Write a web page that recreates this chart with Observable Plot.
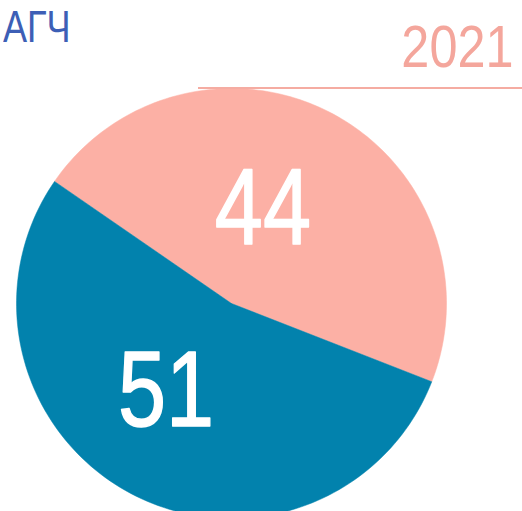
<!DOCTYPE html>
<html>
<head>
<meta charset="utf-8">
<script src="https://cdn.jsdelivr.net/npm/d3@7"></script>
<script src="https://cdn.jsdelivr.net/npm/@observablehq/plot@0.6"></script>
<style>
  html, body { margin: 0; padding: 0; background: #ffffff; }
  #wrap { position: relative; width: 522px; height: 511px; overflow: hidden; background: #fff; }
  #chart { position: absolute; left: 0; top: 0; }
  .title { position: absolute; left: 3px; top: 3px; font-family: "Liberation Sans", sans-serif; font-size: 44px; line-height: 1.1; color: #3d5fb6; white-space: nowrap; transform: scaleX(0.82); transform-origin: left top; }
  .year { position: absolute; right: 9px; top: 17px; font-family: "Liberation Sans", sans-serif; font-size: 60px; line-height: 1; color: #f4a69c; white-space: nowrap; transform: scaleX(0.84); transform-origin: right top; }
  .yearline { position: absolute; left: 198px; top: 87px; width: 324px; height: 2px; background: #f5aca2; }
</style>
</head>
<body>
<div id="wrap">
  <div id="chart"></div>
  <div class="title">АГЧ</div>
  <div class="yearline"></div>
  <div class="year">2021</div>
</div>
<script>
// Data
const categories = ["Slice A", "Slice B"];
const values = [44, 51];
const colors = ["#fcb0a5", "#0282ad"];
const year = "2021";

// Build slices from values
const total = d3.sum(values);
const startDeg = -55.4;
const slicePts = [];
const labels = [];
let acc = 0;
values.forEach((v, i) => {
  const a0 = (startDeg + acc / total * 360) * Math.PI / 180;
  acc += v;
  const a1 = (startDeg + acc / total * 360) * Math.PI / 180;
  slicePts.push({name: categories[i], x: 0, y: 0});
  const n = 120;
  for (let k = 0; k <= n; k++) {
    const a = a0 + (a1 - a0) * k / n;
    slicePts.push({name: categories[i], x: Math.sin(a), y: Math.cos(a)});
  }
  slicePts.push({name: categories[i], x: 0, y: 0});
  const am = (a0 + a1) / 2;
  labels.push({name: categories[i], value: v, x: 0.48 * Math.sin(am), y: 0.48 * Math.cos(am)});
});

const plot = Plot.plot({
  width: 522,
  height: 511,
  x: {domain: [-1, 1], range: [16, 446], axis: null},
  y: {domain: [-1, 1], range: [518, 88], axis: null},
  color: {domain: categories, range: colors},
  marks: [
    Plot.line(slicePts, {x: "x", y: "y", z: "name", fill: "name", stroke: "name", strokeWidth: 0.5, curve: "linear"}),
    Plot.text(labels, {x: "x", y: "y", text: d => String(d.value), fill: "#ffffff", stroke: "#ffffff", strokeWidth: 1.5, dx: -17, dy: -3,
      fontSize: 108, fontFamily: "Liberation Sans, sans-serif", textAnchor: "middle", lineAnchor: "middle"})
  ]
});
plot.style.overflow = "hidden";
// condense the label glyphs horizontally (narrow face look)
plot.querySelectorAll("text").forEach(t => {
  const tr = t.getAttribute("transform") || "";
  t.setAttribute("transform", tr + " scale(0.8,1)");
});
document.getElementById("chart").appendChild(plot);
</script>
</body>
</html>
